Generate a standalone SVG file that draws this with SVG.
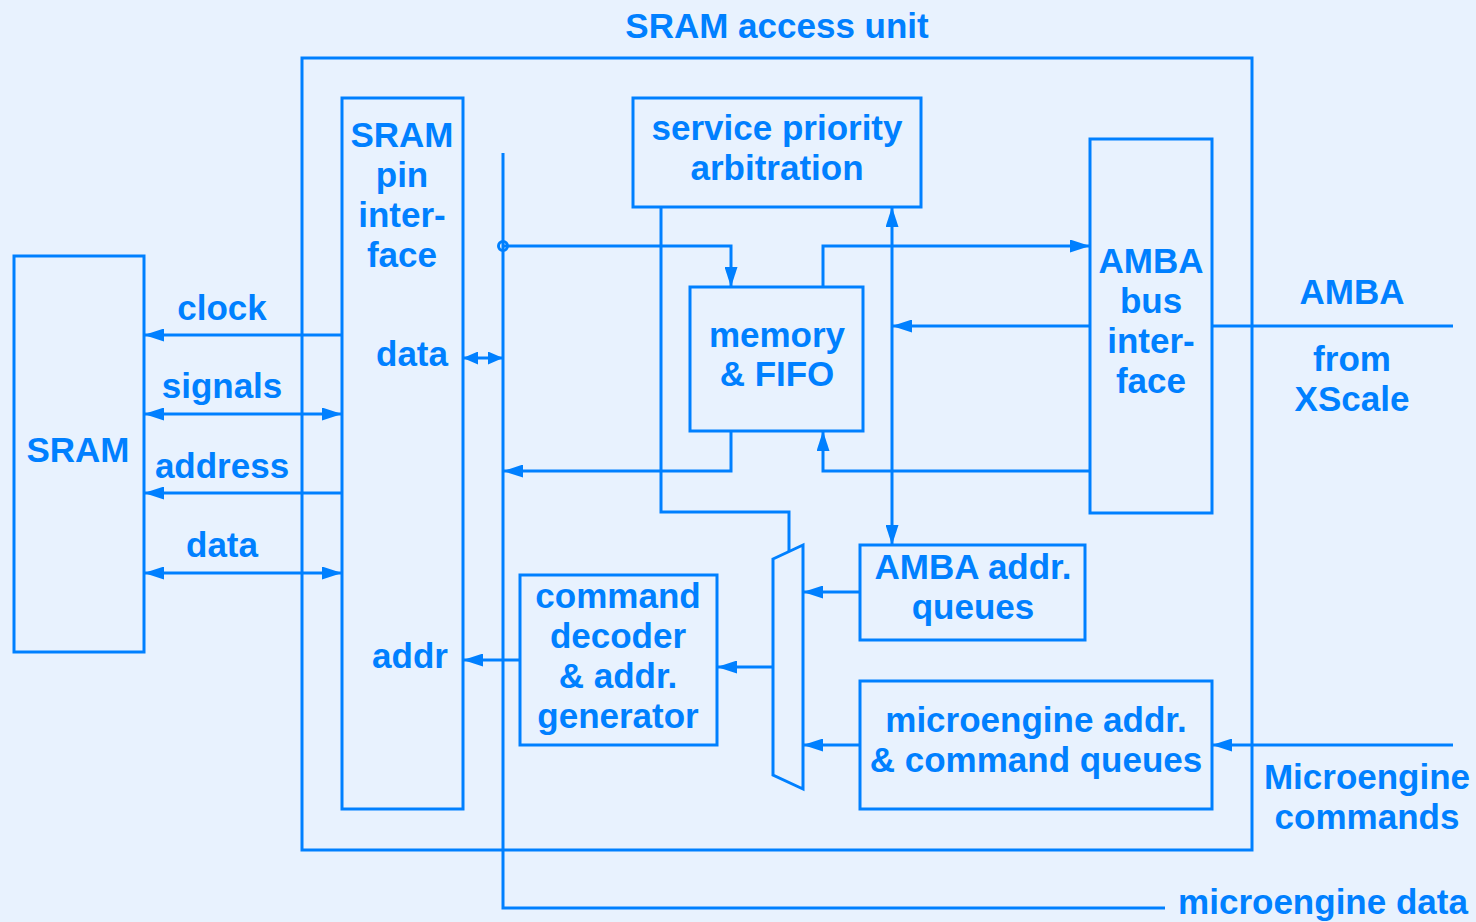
<svg xmlns="http://www.w3.org/2000/svg" width="1476" height="922" viewBox="0 0 1476 922">
<defs>
<style>
.box{fill:none;stroke:#0080FF;stroke-width:3}
.ln{fill:none;stroke:#0080FF;stroke-width:3}
text{font-family:"Liberation Sans",Arial,sans-serif;font-weight:bold;font-size:35px;fill:#0080FF;text-anchor:middle}
</style>
<marker id="ah" markerUnits="userSpaceOnUse" markerWidth="20" markerHeight="13" refX="20" refY="6.5" orient="auto-start-reverse" viewBox="0 0 20 13">
<path d="M0,0 L20,6.5 L0,13 z" fill="#0080FF"/>
</marker>
<marker id="ahs" markerUnits="userSpaceOnUse" markerWidth="15" markerHeight="13" refX="15" refY="6.5" orient="auto-start-reverse" viewBox="0 0 15 13">
<path d="M0,0 L15,6.5 L0,13 z" fill="#0080FF"/>
</marker>
</defs>
<rect width="1476" height="922" fill="#E8F2FE"/>

<g id="unit">
<rect class="box" x="302" y="58" width="950" height="792"/>
<text x="777" y="38">SRAM access unit</text>
</g>

<g id="sram">
<rect class="box" x="14" y="256" width="130" height="396"/>
<text x="78" y="462">SRAM</text>
</g>

<g id="pin">
<rect class="box" x="342" y="98" width="121" height="711"/>
<text x="402" y="147">SRAM</text>
<text x="402" y="187">pin</text>
<text x="402" y="227">inter-</text>
<text x="402" y="267">face</text>
<text x="412" y="366">data</text>
<text x="410" y="668">addr</text>
</g>

<g id="service">
<rect class="box" x="633" y="98" width="288" height="109"/>
<text x="777" y="140">service priority</text>
<text x="777" y="180">arbitration</text>
</g>

<g id="memory">
<rect class="box" x="690" y="287" width="173" height="144"/>
<text x="777" y="347">memory</text>
<text x="777" y="386">&amp; FIFO</text>
</g>

<g id="amba-bus">
<rect class="box" x="1090" y="139" width="122" height="374"/>
<text x="1151" y="273">AMBA</text>
<text x="1151" y="313">bus</text>
<text x="1151" y="353">inter-</text>
<text x="1151" y="393">face</text>
</g>

<g id="amba-queues">
<rect class="box" x="860" y="545" width="225" height="95"/>
<text x="973" y="579">AMBA addr.</text>
<text x="973" y="619">queues</text>
</g>

<g id="micro-queues">
<rect class="box" x="860" y="681" width="352" height="128"/>
<text x="1036" y="732">microengine addr.</text>
<text x="1036" y="772">&amp; command queues</text>
</g>

<g id="decoder">
<rect class="box" x="520" y="575" width="197" height="170"/>
<text x="618" y="608">command</text>
<text x="618" y="648">decoder</text>
<text x="618" y="688">&amp; addr.</text>
<text x="618" y="728">generator</text>
</g>

<g id="mux">
<polygon class="box" points="773,559 803,545 803,789 773,775"/>
</g>

<g id="connectors">
<path class="ln" d="M342,335 H144" marker-end="url(#ah)"/>
<path class="ln" d="M144,414 H342" marker-start="url(#ah)" marker-end="url(#ah)"/>
<path class="ln" d="M342,493 H144" marker-end="url(#ah)"/>
<path class="ln" d="M144,573 H342" marker-start="url(#ah)" marker-end="url(#ah)"/>
<path class="ln" d="M463,358 H503" marker-start="url(#ahs)" marker-end="url(#ahs)"/>
<path class="ln" d="M503,153 V908 H1165"/>
<path class="ln" d="M503,246 H731 V287" marker-end="url(#ah)"/>
<circle cx="503" cy="246" r="4.5" fill="none" stroke="#0080FF" stroke-width="3"/>
<path class="ln" d="M731,431 V471 H503" marker-end="url(#ah)"/>
<path class="ln" d="M661,207 V512 H789 V552"/>
<path class="ln" d="M892,207 V545" marker-start="url(#ah)" marker-end="url(#ah)"/>
<path class="ln" d="M823,287 V246 H1090" marker-end="url(#ah)"/>
<path class="ln" d="M1090,326 H892" marker-end="url(#ah)"/>
<path class="ln" d="M1090,471 H823 V431" marker-end="url(#ah)"/>
<path class="ln" d="M1212,326 H1453"/>
<path class="ln" d="M1453,745 H1212" marker-end="url(#ah)"/>
<path class="ln" d="M860,592 H803" marker-end="url(#ah)"/>
<path class="ln" d="M860,745 H803" marker-end="url(#ah)"/>
<path class="ln" d="M773,667 H717" marker-end="url(#ah)"/>
<path class="ln" d="M520,660 H463" marker-end="url(#ah)"/>
</g>

<g id="labels">
<text x="222" y="320">clock</text>
<text x="222" y="398">signals</text>
<text x="222" y="478">address</text>
<text x="222" y="557">data</text>
<text x="1352" y="304">AMBA</text>
<text x="1352" y="371">from</text>
<text x="1352" y="411">XScale</text>
<text x="1367" y="789">Microengine</text>
<text x="1367" y="829">commands</text>
<text x="1323" y="914">microengine data</text>
</g>
</svg>
